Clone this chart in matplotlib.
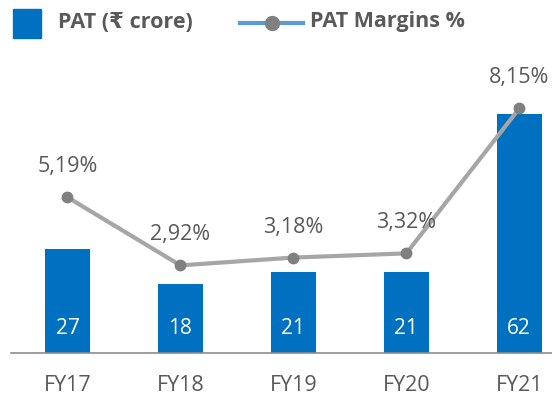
import matplotlib.pyplot as plt
from matplotlib.lines import Line2D
from matplotlib.patches import Rectangle

plt.rcParams['font.family'] = ['Open Sans', 'DejaVu Sans']

years = ['FY17', 'FY18', 'FY19', 'FY20', 'FY21']
pat = [27, 18, 21, 21, 62]
margin = [5.19, 2.92, 3.18, 3.32, 8.15]
margin_lbl = ['5,19%', '2,92%', '3,18%', '3,32%', '8,15%']

blue = '#0070C0'
txt = '#595959'
W, H = 552, 401

fig = plt.figure(figsize=(W / 100, H / 100), dpi=100)
ax = fig.add_axes([11 / W, 48 / H, 541 / W, 313 / H])
x = range(len(years))
ax.bar(x, pat, width=0.4, color=blue, zorder=2)
for i, v in enumerate(pat):
    ax.annotate(str(v), (i, 0), xytext=(0, 18), textcoords='offset points',
                ha='center', va='center', color='white', fontsize=15)

ax.set_xlim(-0.5, 4.29)
ax.set_ylim(0, 81.2)
ax.set_yticks([])
for s in ['top', 'right', 'left']:
    ax.spines[s].set_visible(False)
ax.spines['bottom'].set_color('#8c8c8c')
ax.spines['bottom'].set_linewidth(1.2)
ax.set_xticks(list(x))
ax.set_xticklabels(years, fontsize=15.5, color=txt)
ax.tick_params(axis='x', length=0, pad=16)

ax2 = ax.twinx()
ax2.set_ylim(0, 10.43)
ax2.set_yticks([])
for s in ax2.spines.values():
    s.set_visible(False)
ax2.plot(x, margin, color='#A6A6A6', lw=3, marker='o', ms=7.5,
         mfc='#808080', mec='#808080', zorder=3)
for i, v in enumerate(margin):
    ax2.annotate(margin_lbl[i], (i, v), xytext=(0, 22), textcoords='offset points',
                 ha='center', va='center', color=txt, fontsize=15.5)

# legend drawn by hand
fig.patches.append(Rectangle((13 / W, 1 - 38 / H), 28 / W, 29 / H,
                             transform=fig.transFigure, color=blue))
fig.text(58 / W, 1 - 22 / H, 'PAT (₹ crore)', ha='left', va='center',
         fontsize=15.5, fontweight='bold', color=txt)
fig.lines.append(Line2D([240 / W, 303 / W], [1 - 23 / H, 1 - 23 / H],
                        transform=fig.transFigure, color='#5B9BD5', lw=3))
fig.lines.append(Line2D([272 / W], [1 - 23 / H], transform=fig.transFigure,
                        marker='o', ms=10, mfc='#808080', mec='#808080', lw=0))
fig.text(310 / W, 1 - 22 / H, 'PAT Margins %', ha='left', va='center',
         fontsize=15.5, fontweight='bold', color=txt)

fig.savefig('out.png', dpi=100)
